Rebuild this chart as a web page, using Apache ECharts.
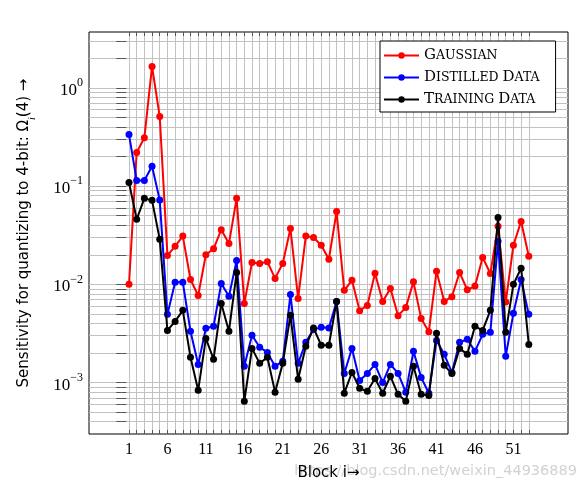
<!DOCTYPE html>
<html>
<head>
<meta charset="utf-8">
<script src="https://cdn.jsdelivr.net/npm/echarts@6/dist/echarts.min.js"></script>
<style>
html,body{margin:0;padding:0;background:#fff;}
#c{width:586px;height:488px;}
</style>
</head>
<body>
<div id="c"></div>
<script>
// ---- data ----
const blocks = [1,2,3,4,5,6,7,8,9,10,11,12,13,14,15,16,17,18,19,20,21,22,23,24,25,26,27,28,29,30,31,32,33,34,35,36,37,38,39,40,41,42,43,44,45,46,47,48,49,50,51,52,53];
const gaussian = [0.0100,0.22,0.31,1.65,0.51,0.0197,0.0244,0.031,0.0112,0.0077,0.020,0.023,0.036,0.026,0.075,0.0064,0.0167,0.0163,0.017,0.0115,0.0163,0.037,0.0072,0.031,0.030,0.025,0.018,0.055,0.0087,0.011,0.0054,0.0061,0.013,0.0067,0.0091,0.0048,0.0058,0.0106,0.0045,0.0033,0.0136,0.0067,0.0075,0.0132,0.0088,0.0096,0.0188,0.0129,0.039,0.0066,0.025,0.0437,0.0193];
const distilled = [0.336,0.114,0.114,0.159,0.072,0.00495,0.0105,0.0105,0.00333,0.00153,0.00357,0.00374,0.0102,0.00755,0.0175,0.00147,0.00303,0.00229,0.00203,0.00147,0.00165,0.0079,0.00157,0.00257,0.00348,0.00365,0.0036,0.0067,0.00124,0.00223,0.00105,0.00124,0.00153,0.0010,0.00153,0.00124,0.0008,0.00208,0.00113,0.00078,0.00269,0.00194,0.00127,0.00257,0.00276,0.00208,0.0031,0.00325,0.0274,0.00185,0.00507,0.0112,0.00495];
const training = [0.109,0.0459,0.075,0.0716,0.0287,0.0034,0.0042,0.00544,0.00181,0.000835,0.00282,0.00173,0.0064,0.00333,0.0132,0.000645,0.00223,0.00157,0.00181,0.0008,0.00157,0.00484,0.00108,0.00234,0.0036,0.0024,0.0024,0.0067,0.00078,0.00127,0.000875,0.000817,0.0011,0.00078,0.00116,0.00076,0.000645,0.00147,0.00076,0.00074,0.00318,0.0015,0.00124,0.00223,0.00194,0.00374,0.0034,0.00544,0.048,0.00325,0.010,0.0146,0.00245];
const seriesNames = ['Gaussian','Distilled Data','Training Data'];
const xTickLabels = [1,6,11,16,21,26,31,36,41,46,51];
const yMajorTicks = [0.001,0.01,0.1,1];
const yAllTicks = [0.0004,0.0005,0.0006,0.0007,0.0008,0.0009,
  0.001,0.002,0.003,0.004,0.005,0.006,0.007,0.008,0.009,
  0.01,0.02,0.03,0.04,0.05,0.06,0.07,0.08,0.09,
  0.1,0.2,0.3,0.4,0.5,0.6,0.7,0.8,0.9,
  1,2,3];

// ---- chart ----
const chart = echarts.init(document.getElementById('c'), null, {renderer:'canvas'});
const gridColor = '#c2c2c2';
const serif = 'Liberation Serif';
const lserif = 'DejaVu Serif';
const sans = 'DejaVu Sans';
const xMin = -4.2, xMax = 58.1, yMin = 3e-4, yMax = 3.7;

function smallCaps(name){
  return name.split(' ').map(w => '{c|' + w[0].toUpperCase() + '}{s|' + w.slice(1).toUpperCase() + '}').join('{s| }');
}
function pow10Label(v){
  const e = Math.round(Math.log10(v));
  return '{b|10}{s|' + (e < 0 ? '\u2212' + (-e) : e) + '}';
}
function pairs(vals){ return blocks.map((b,i) => [b, vals[i]]); }

const colors = ['#ff0000','#0000ff','#000000'];
const valueSets = [gaussian, distilled, training];

const option = {
  animation:false,
  backgroundColor:'#fff',
  grid:{left:89, right:18, top:32, bottom:54, show:true, borderColor:'#000', borderWidth:1, backgroundColor:'transparent'},
  legend:{
    left:380, top:41, orient:'vertical',
    itemWidth:35, itemHeight:8, itemGap:7, itemTextGap:4,
    padding:[7,16,5,3],
    borderColor:'#000', borderWidth:1, backgroundColor:'#fff',
    data:seriesNames,
    formatter:n => smallCaps(n),
    textStyle:{rich:{
      c:{fontFamily:lserif, fontSize:15, color:'#000', lineHeight:17},
      s:{fontFamily:lserif, fontSize:12.5, color:'#000', lineHeight:17}
    }}
  },
  xAxis:[{
    type:'value', min:xMin, max:xMax, position:'bottom',
    axisLine:{show:false},
    axisTick:{show:true, inside:true, length:4, customValues:blocks, lineStyle:{color:'#555'}},
    axisLabel:{customValues:xTickLabels, fontFamily:serif, fontSize:16, color:'#000', margin:8},
    splitLine:{show:true, lineStyle:{color:gridColor, width:1}},
    name:'Block i\u2192', nameLocation:'middle', nameGap:32,
    nameTextStyle:{fontFamily:sans, fontSize:15, color:'#000'}
  },{
    type:'value', min:xMin, max:xMax, position:'top',
    axisLine:{show:false},
    axisTick:{show:true, inside:true, length:4, customValues:blocks, lineStyle:{color:'#555'}},
    axisLabel:{show:false}, splitLine:{show:false}
  }],
  yAxis:[{
    type:'log', logBase:10, min:yMin, max:yMax, position:'left',
    axisLine:{show:false},
    axisTick:{show:true, inside:true, length:5, customValues:yAllTicks, lineStyle:{color:'#555'}},
    axisLabel:{customValues:yMajorTicks, formatter:pow10Label, margin:6,
      rich:{
        b:{fontFamily:serif, fontSize:17, color:'#000', lineHeight:22, verticalAlign:'bottom'},
        s:{fontFamily:serif, fontSize:12, color:'#000', lineHeight:12, verticalAlign:'top'}
      }},
    splitLine:{show:true, lineStyle:{color:gridColor, width:1}},
    name:'{t|Sensitivity for quantizing to 4-bit: \u03A9}{i|i}{t|(4) \u2192}',
    nameLocation:'middle', nameGap:52,
    nameTextStyle:{fontFamily:sans, fontSize:15, color:'#000',
      rich:{
        t:{fontFamily:sans, fontSize:15, color:'#000', lineHeight:20, verticalAlign:'top'},
        i:{fontFamily:serif, fontStyle:'italic', fontSize:10, color:'#000', lineHeight:18, verticalAlign:'bottom'}
      }}
  },{
    type:'log', logBase:10, min:yMin, max:yMax, position:'right',
    axisLine:{show:false},
    axisTick:{show:true, inside:true, length:5, customValues:yAllTicks, lineStyle:{color:'#555'}},
    axisLabel:{show:false}, splitLine:{show:false}
  }],
  series: seriesNames.map((name, k) => ({
    name:name, type:'line', xAxisIndex:0, yAxisIndex:0,
    data:pairs(valueSets[k]),
    symbol:'circle', symbolSize:7,
    lineStyle:{color:colors[k], width:2},
    itemStyle:{color:colors[k]},
    z:2+k
  })),
  graphic:[{
    type:'text', right:9, top:464, silent:true,
    style:{text:'https://blog.csdn.net/weixin_44936889', fontFamily:sans, fontSize:14.5, fill:'rgba(190,190,190,0.7)'}
  }]
};
chart.setOption(option);
</script>
</body>
</html>
